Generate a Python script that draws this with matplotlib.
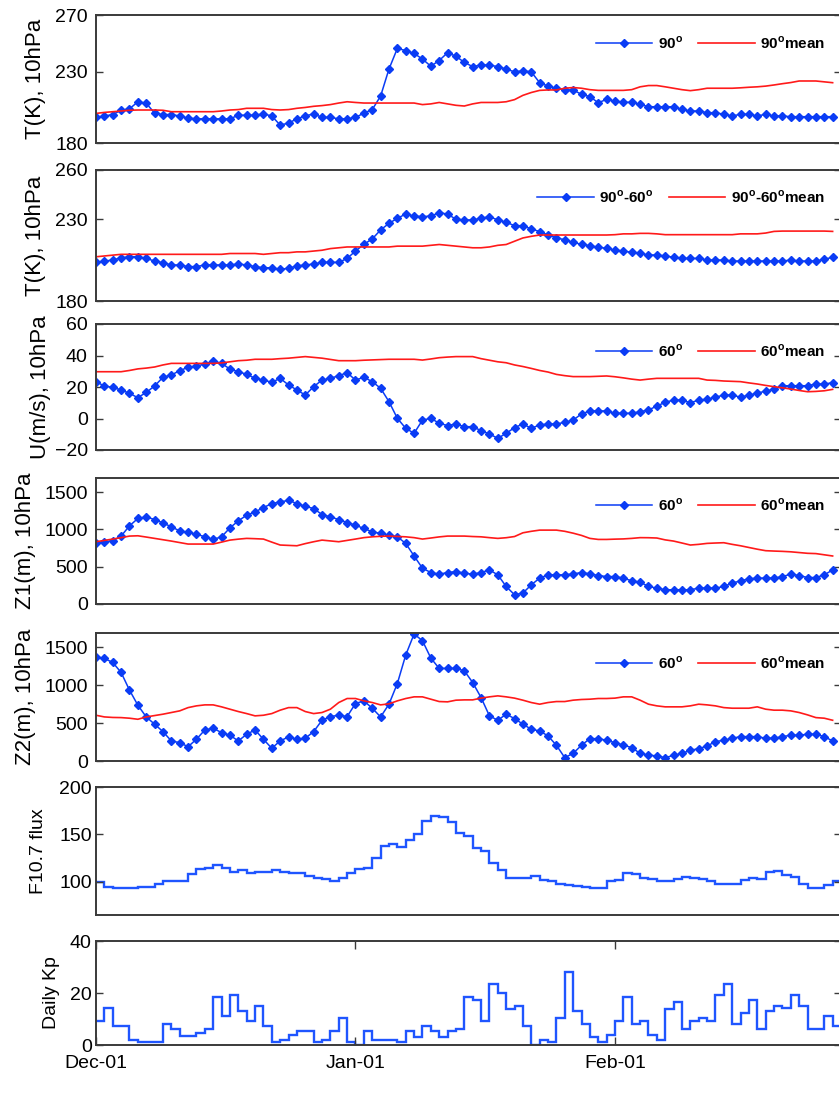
import numpy as np
import matplotlib
matplotlib.use('Agg')
import matplotlib.pyplot as plt

plt.rcParams['font.family'] = ['Liberation Sans', 'DejaVu Sans']
plt.rcParams['mathtext.fontset'] = 'custom'
plt.rcParams['mathtext.rm'] = 'Liberation Sans'
plt.rcParams['mathtext.bf'] = 'Liberation Sans:bold'

# ---------------- data (day index 0 = Dec-01) ----------------
days = np.arange(89)
xtick_days = [0, 31, 62]
xtick_labels = ['Dec-01', 'Jan-01', 'Feb-01']

t90 = [198, 199, 200, 203, 204, 209, 208, 201, 200, 200,
       199, 197.5, 197, 197, 197, 197, 197, 199.5, 199.5, 199.5,
       200.5, 199, 192.6, 194, 197, 199, 200.5, 198, 198, 197,
       197, 198, 201, 203.5, 213, 232, 246.5, 245, 243, 239,
       234, 238, 243.5, 241, 236.7, 233.7, 234.8, 234.8, 233.7, 232,
       230, 230.8, 230, 222.4, 220, 218.4, 217.3, 217.3, 214.2, 212.6,
       208.3, 210.7, 209.5, 208.6, 208.6, 207.2, 205.5, 205.5, 205.5, 205.5,
       203.6, 202.5, 202.5, 201.3, 201.3, 200.2, 199, 200.2, 200.2, 199,
       200.2, 199, 199, 198.5, 198.5, 198.5, 198.5, 198.5, 198.5]
t90_mean = [200.8, 201.5, 202, 202.5, 203, 203.2, 203.2, 203.2, 203, 202,
            202, 202, 202, 202, 202, 202.5, 203.2, 203.5, 204.4, 204.4,
            204.4, 203.5, 203.2, 203.5, 204.4, 205, 205.8, 206.3, 207, 208.1,
            209, 208.5, 208.1, 208.1, 208.1, 208.1, 208.1, 208.1, 208.1, 207,
            207.5, 208.5, 207.5, 206.5, 206, 207.5, 208.5, 208.5, 208.5, 209,
            210.5, 213.5, 215.5, 217, 217.3, 217.3, 218.5, 219, 218.5, 217.5,
            217, 217, 217, 217, 217.5, 219.5, 220.4, 220.4, 219.5, 218.5,
            217.5, 216.8, 217.5, 218.5, 218.5, 218.5, 218.5, 218.8, 219.2, 219.5,
            220, 220.8, 221.7, 222.5, 223.6, 223.6, 223.6, 223, 222.4]

t9060 = [203.6, 204.4, 205, 206.4, 207, 207, 206, 204.4, 203.4, 202,
         202, 201, 201, 202, 202, 202, 202, 202.6, 202, 201,
         200.3, 200.3, 199.3, 200, 201.4, 202, 202.6, 203.6, 203.6, 203.6,
         206, 210.5, 214.6, 217.9, 223.4, 227.4, 230.5, 233.1, 231.9, 231.5,
         231.9, 233.9, 233.1, 229.9, 229.5, 229.5, 230.5, 231.5, 229.5, 228.1,
         226, 226, 224, 222.4, 220.3, 218.7, 217.3, 215.8, 214.6, 213.8,
         212.8, 212.2, 211.1, 210.5, 209.7, 209.1, 208.1, 208.1, 207.5, 206.7,
         206, 206, 206, 205, 205, 205, 204.4, 204.4, 204.4, 204.4,
         204.4, 204.4, 204.4, 205, 204.4, 204.4, 204.4, 205.5, 206.7]
t9060_mean = [207, 207.5, 208, 208.5, 208.5, 208.5, 208.5, 208.5, 208.5, 208.5,
              208.5, 208.5, 208.5, 208.5, 208.5, 208.5, 209, 209, 209, 209,
              208.5, 209, 209.5, 209.5, 210, 210, 210.5, 211, 212, 212.5,
              213, 213, 213, 213, 213, 213, 213.5, 213.5, 213.5, 213.5,
              214, 214.5, 214, 213.5, 213, 212.5, 212.5, 213, 214, 214.5,
              216.5, 218.5, 219.5, 220.3, 220.3, 220.3, 220.3, 220.3, 220.3, 220.3,
              220.3, 220.3, 220.5, 221, 221, 221.3, 221.3, 221, 220.5, 220.5,
              220.5, 220.5, 220.5, 220.5, 220.5, 220.5, 220.5, 221, 221, 221,
              221.5, 222.5, 222.7, 222.7, 222.7, 222.7, 222.7, 222.7, 222.5]

u60 = [23.4, 20.6, 19.8, 18.1, 16, 13.2, 16.6, 20.6, 26.2, 27.6,
       30.4, 32.5, 33.3, 34.6, 36.7, 35, 31.4, 29.7, 28.1, 25.5,
       24.4, 23, 25.5, 21.3, 18.1, 14.9, 20.2, 24.4, 25.5, 27.2,
       29.1, 24.4, 26.2, 23.4, 19.2, 10.7, 0.1, -6.2, -9.4, -1,
       0.1, -3, -4.5, -3.5, -5.2, -5.2, -7.7, -9.8, -12.6, -9.4,
       -5.8, -3.5, -6.2, -4.1, -3.5, -3.5, -2.4, -1, 2.9, 4.8,
       4.8, 4.8, 3.3, 3.3, 3.3, 4.3, 5.4, 7.9, 10.3, 11.7,
       11.7, 10, 11.7, 12.2, 13.5, 14.9, 14.9, 13.5, 14.9, 16,
       17.5, 18.5, 20.8, 20.8, 20.8, 20.8, 21.9, 21.9, 22.7]
u60_mean = [29.7, 29.7, 29.7, 29.7, 30.5, 31.5, 32, 32.7, 34, 35,
            35, 35, 35, 35, 35, 35.3, 36, 36.7, 37, 37.6,
            37.6, 37.6, 38, 38.3, 38.8, 39.3, 38.8, 38.3, 37.5, 36.7,
            36.7, 36.7, 37, 37.2, 37.4, 37.6, 37.6, 37.6, 37.6, 37.1,
            37.8, 38.6, 39, 39.3, 39.3, 39.3, 38, 37, 36, 35.4,
            34, 33, 31.8, 30.5, 29.5, 28, 27.2, 26.6, 26.6, 26.6,
            26.8, 27, 26.5, 25.8, 25, 24.4, 25, 25.5, 25.5, 25.5,
            25.5, 25.5, 25.5, 24.4, 24.2, 23.8, 23.6, 23.4, 22.6, 21.9,
            21, 20.2, 19.5, 18.7, 17.8, 17, 17.2, 17.6, 18.5]

z1 = [813, 835, 848, 911, 1048, 1147, 1168, 1133, 1088, 1035,
      981, 960, 937, 901, 867, 901, 1021, 1115, 1191, 1235,
      1293, 1347, 1368, 1391, 1347, 1311, 1280, 1200, 1168, 1133,
      1093, 1057, 1013, 968, 947, 924, 901, 813, 644, 480,
      422, 400, 422, 435, 413, 400, 422, 457, 391, 235,
      124, 147, 257, 347, 391, 391, 391, 404, 422, 404,
      382, 368, 368, 347, 311, 293, 235, 213, 191, 191,
      191, 191, 213, 213, 213, 235, 280, 311, 337, 347,
      347, 347, 368, 400, 382, 355, 355, 391, 457]
z1_mean = [835, 853, 871, 890, 911, 915, 898, 880, 862, 844,
           824, 804, 804, 804, 804, 830, 857, 870, 880, 876,
           871, 830, 791, 786, 781, 810, 835, 857, 846, 835,
           853, 871, 890, 901, 908, 911, 906, 901, 890, 871,
           885, 900, 911, 911, 911, 905, 901, 890, 880, 889,
           905, 955, 975, 991, 991, 991, 975, 950, 920, 880,
           866, 866, 870, 873, 880, 890, 889, 885, 860, 844,
           818, 791, 800, 813, 818, 822, 800, 781, 758, 735,
           715, 710, 706, 700, 690, 680, 676, 660, 644]

z2 = [1376, 1354, 1301, 1169, 936, 737, 582, 486, 388, 265,
      242, 189, 287, 410, 432, 375, 340, 265, 353, 410,
      287, 168, 265, 318, 287, 300, 388, 538, 587, 604,
      587, 759, 794, 697, 582, 750, 1023, 1399, 1677, 1588,
      1359, 1222, 1222, 1222, 1191, 1036, 838, 596, 538, 618,
      560, 486, 419, 397, 331, 208, 44, 101, 208, 295,
      295, 274, 242, 212, 176, 101, 79, 66, 44, 75,
      101, 141, 163, 198, 256, 274, 300, 322, 322, 322,
      300, 300, 322, 340, 340, 353, 353, 322, 265]
z2_mean = [604, 582, 575, 573, 565, 551, 582, 600, 618, 640,
           662, 705, 728, 741, 741, 715, 684, 653, 626, 596,
           604, 626, 671, 705, 705, 653, 626, 640, 684, 772,
           825, 825, 794, 772, 741, 755, 794, 825, 847, 847,
           816, 785, 781, 803, 807, 807, 830, 847, 860, 847,
           830, 803, 772, 750, 772, 785, 785, 803, 812, 816,
           825, 825, 830, 847, 847, 803, 750, 728, 715, 715,
           715, 728, 750, 741, 728, 705, 697, 697, 697, 715,
           684, 671, 671, 662, 640, 609, 573, 565, 538]

f107 = [100, 95, 93.5, 93.5, 93.5, 94.5, 94.5, 97.5, 100.5, 100.5,
        100.5, 108, 114, 115, 117.5, 115, 110.5, 112.5, 109.5, 110.5,
        110.5, 112.5, 110.5, 109, 109, 106.5, 103.5, 103, 100.5, 103.5,
        109, 113, 115, 125.5, 138, 139.5, 137, 144, 150, 164.5,
        169, 168, 163.5, 152, 148.5, 135.5, 133, 120, 112.5, 103.5,
        103.5, 104, 106.5, 102, 100.5, 98, 97, 95.5, 94.5, 93.5,
        93.5, 100.5, 102, 109, 108, 103.5, 102.5, 100.5, 100.5, 103,
        105.5, 104, 102.5, 100.5, 98, 98, 98, 102, 104, 102.5,
        110, 111, 107, 105.5, 98, 93.5, 93.5, 97, 100.5]

kp = [9.3, 14.2, 7.2, 7.2, 2, 1, 1, 1, 8.2, 6,
      3.5, 3.5, 4.5, 6, 18.3, 11, 19.3, 13, 9.3, 15,
      7.2, 1, 2, 4, 5.3, 5.3, 1, 2, 5.3, 10.3,
      1, 0, 5.3, 2, 2, 2, 1, 5.3, 3.2, 7.2,
      5.3, 3.2, 5.3, 6, 18.3, 17.3, 9.3, 23.3, 20, 14,
      15, 7.2, 0, 2, 1, 10.3, 28.2, 13, 8.2, 3.2,
      1, 4, 9.3, 18.3, 8.2, 9.3, 4, 2, 14, 16.5,
      6, 9.3, 10.3, 9.3, 19.3, 23.3, 8.2, 12.3, 17.2, 6,
      13, 15, 14.2, 19.3, 15, 6, 6, 11, 7.2]

# ---------------- layout ----------------
W, H = 839, 1103
BLUE = '#0a3cf5'
STEP_BLUE = '#1f55ff'
RED = '#ff1a1a'
SPINE = '#3a3a3a'

fig = plt.figure(figsize=(W / 100, H / 100), dpi=100)


def rect(top, bottom, left=96, right=841):
    return [left / W, 1 - bottom / H, (right - left) / W, (bottom - top) / H]


def style(ax, ylim, yticks, ylabel, lab_right_px, pad, lab_size):
    ax.set_xlim(0, 89)
    ax.set_ylim(*ylim)
    ax.set_yticks(yticks)
    for s in ax.spines.values():
        s.set_color(SPINE)
        s.set_linewidth(1.4)
    ax.tick_params(axis='y', direction='in', right=True, length=5,
                   width=1, color=SPINE, labelsize=14, pad=pad)
    ax.set_ylabel(ylabel, fontsize=lab_size)
    ax.yaxis.set_label_coords((lab_right_px - 96) / 745, 0.5)


line_panels = [
    (15, 143, t90, t90_mean, (180, 270), [180, 230, 270], 'T(K), 10hPa',
     r'90$^{\mathbf{o}}$', r'90$^{\mathbf{o}}$mean', 43, 46),
    (170, 301, t9060, t9060_mean, (180, 260), [180, 230, 260], 'T(K), 10hPa',
     r'90$^{\mathbf{o}}$-60$^{\mathbf{o}}$', r'90$^{\mathbf{o}}$-60$^{\mathbf{o}}$mean', 197, 46),
    (324, 450, u60, u60_mean, (-20, 60), [-20, 0, 20, 40, 60], 'U(m/s), 10hPa',
     r'60$^{\mathbf{o}}$', r'60$^{\mathbf{o}}$mean', 351, 51),
    (478, 604, z1, z1_mean, (0, 1690), [0, 500, 1000, 1500], 'Z1(m), 10hPa',
     r'60$^{\mathbf{o}}$', r'60$^{\mathbf{o}}$mean', 505, 36),
    (633, 761, z2, z2_mean, (0, 1690), [0, 500, 1000, 1500], 'Z2(m), 10hPa',
     r'60$^{\mathbf{o}}$', r'60$^{\mathbf{o}}$mean', 663, 36),
]

for top, bot, blue, red, ylim, yt, ylab, l1, l2, legy, labr in line_panels:
    ax = fig.add_axes(rect(top, bot))
    ax.plot(days, blue, color=BLUE, lw=1.1, marker='D', ms=4.4,
            mfc=BLUE, mec=BLUE, label=l1)
    ax.plot(days, red, color=RED, lw=1.2, label=l2)
    style(ax, ylim, yt, ylab, labr, 6, 16)
    ax.set_xticks([])
    ax.legend(loc='center right', ncol=2, frameon=False,
              prop={'weight': 'bold', 'size': 11}, handlelength=3.7,
              handletextpad=0.35, columnspacing=1.0, numpoints=1,
              borderpad=0, borderaxespad=0,
              bbox_to_anchor=((825 - 96) / 745, 1 - (legy - top) / (bot - top)))

edges = np.append(days, days[-1] + 1)

# F10.7 panel
ax6 = fig.add_axes(rect(787, 915))
ax6.stairs(f107, edges, color=STEP_BLUE, lw=1.7, baseline=None)
style(ax6, (65, 200), [100, 150, 200], 'F10.7 flux', 47, 3, 14)
ax6.set_xticks([])

# Kp panel
ax7 = fig.add_axes(rect(941, 1045))
ax7.stairs(kp, edges, color=STEP_BLUE, lw=1.7, baseline=None)
style(ax7, (0, 40), [0, 20, 40], 'Daily Kp', 60, 3, 14)
ax7.set_xticks(xtick_days)
ax7.set_xticklabels(xtick_labels)
ax7.tick_params(axis='x', direction='in', top=True, length=6, width=1,
                color=SPINE, pad=7, labelsize=14)

fig.savefig('out.png', dpi=100)
